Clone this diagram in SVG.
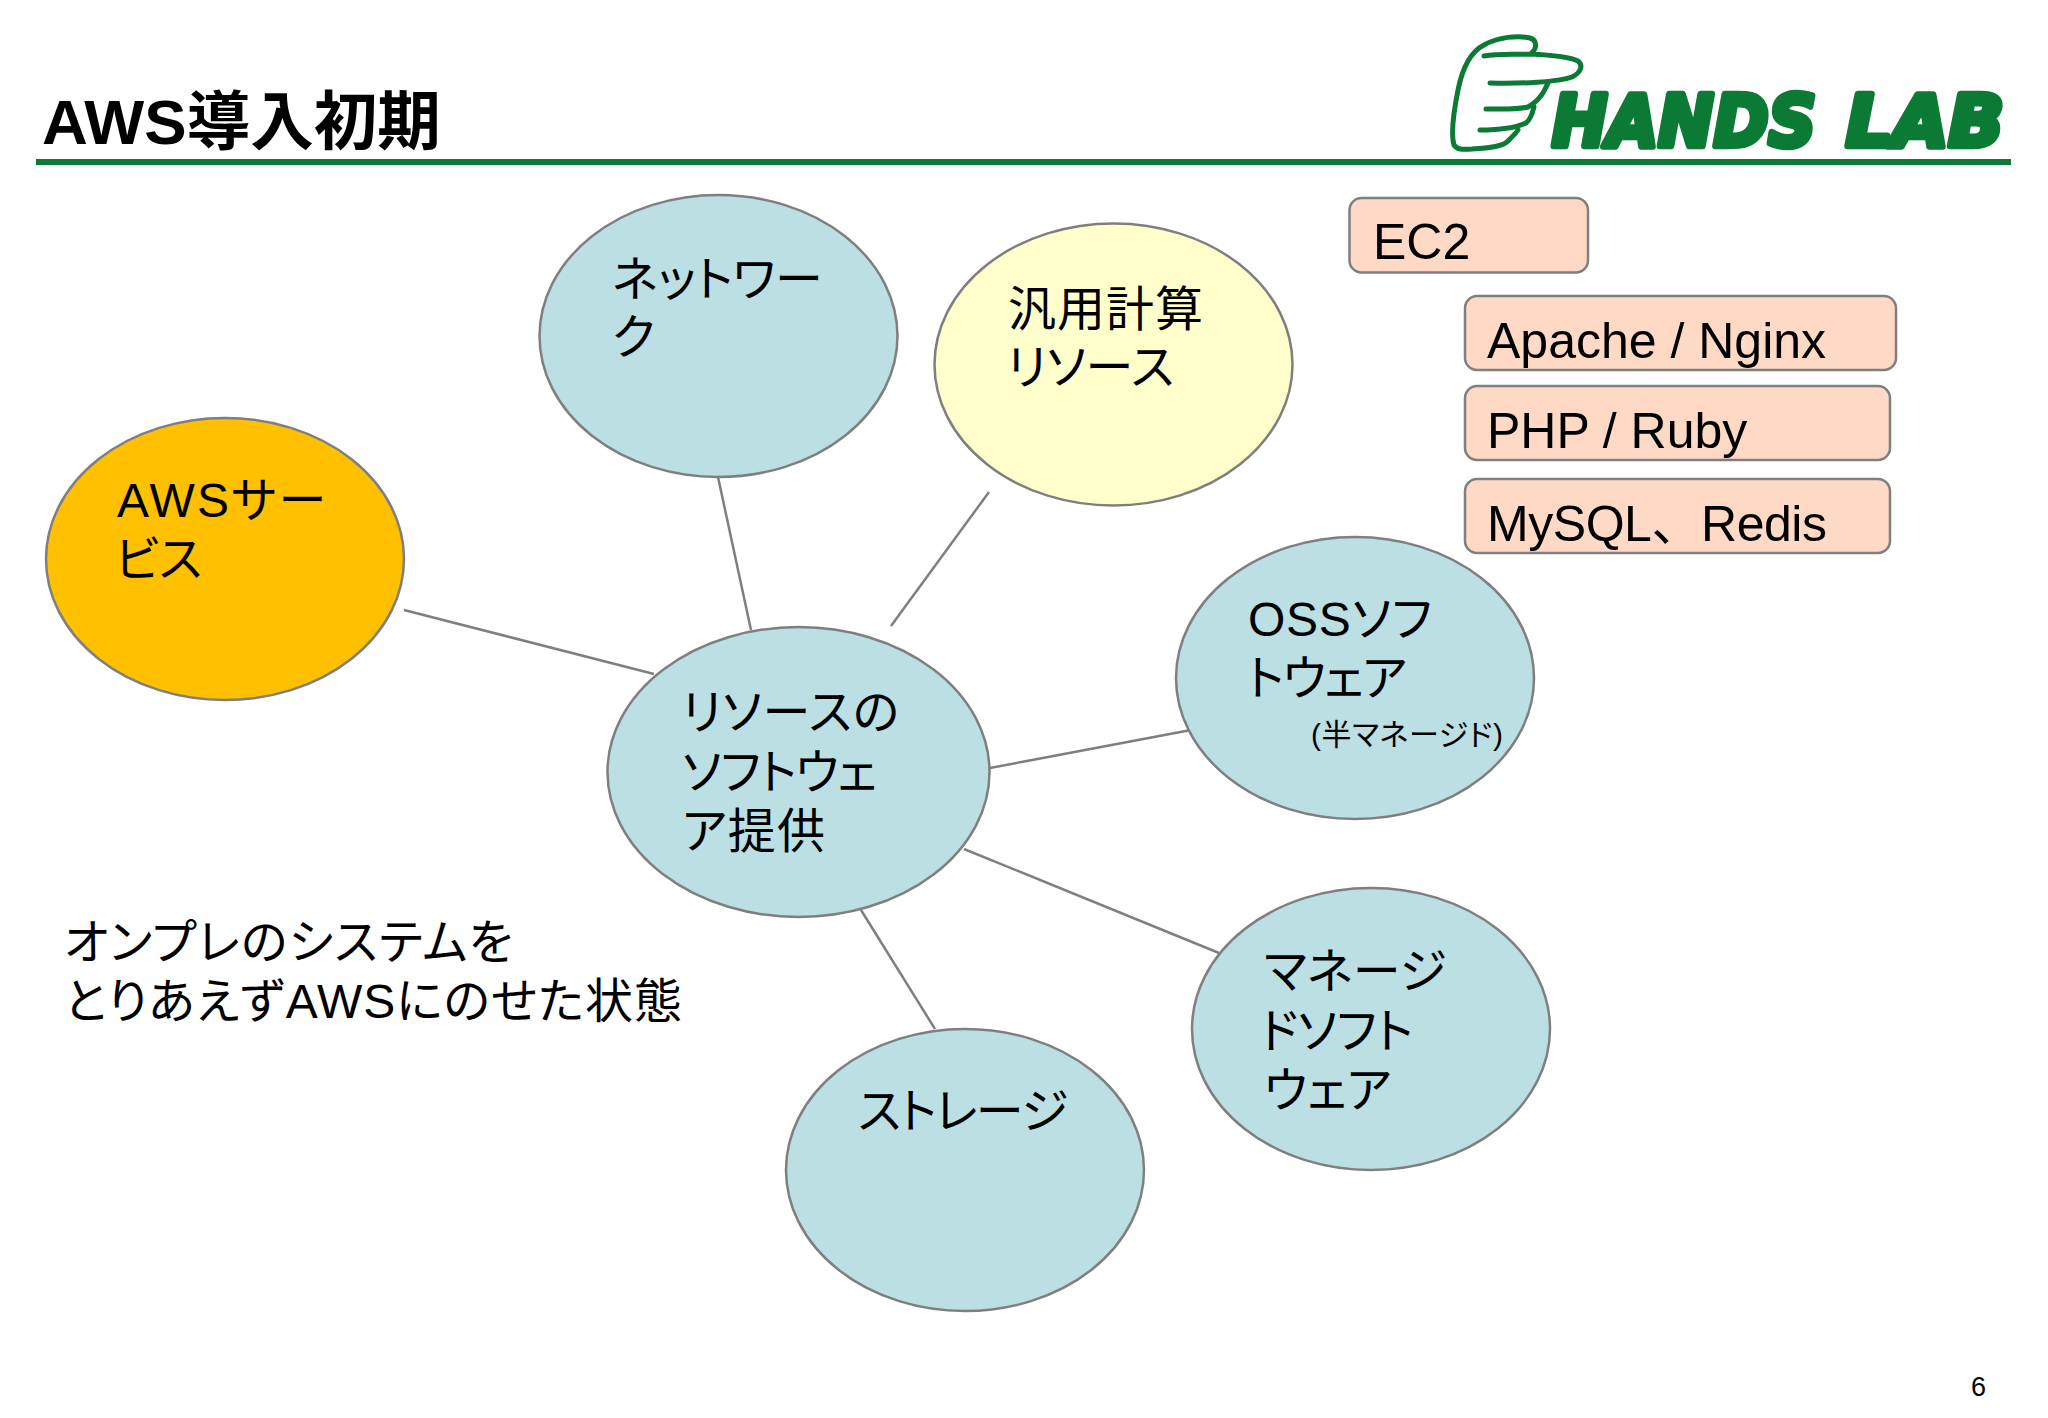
<svg xmlns="http://www.w3.org/2000/svg" width="2048" height="1418" viewBox="0 0 2048 1418">
<style>
text{font-family:"Liberation Sans","Noto Sans CJK JP",sans-serif;fill:#000}
.e{stroke:#7f7f7f;stroke-width:2.5}
.b{fill:#bbdfe3}
.r{fill:#fed9c6;stroke:#7f7f7f;stroke-width:2.5}
.t{font-size:48px;font-feature-settings:"palt"}
.w{font-size:50px}
.l{stroke:#7f7f7f;stroke-width:2.5;fill:none}
.h{fill:none;stroke:#0a7a35;stroke-width:5;stroke-linecap:round;stroke-linejoin:round}
text.g{font-family:"DejaVu Sans",sans-serif;font-size:72px;font-weight:700;font-style:italic;fill:#0a7a35;stroke:#0a7a35;stroke-width:6.500;stroke-linejoin:round}
</style>
<rect width="2048" height="1418" fill="#fff"/>
<g id="header">
<text x="42" y="144" font-size="63.500" font-weight="700">AWS導入初期</text>
<rect x="36" y="159" width="1975" height="6" fill="#0a7a35"/>
</g>
<g id="logo">
<path class="h" d="M1484 56C1500 53 1520 55 1530 54C1538 49 1537 40 1530 38C1518 35 1498 37 1484 45C1470 52 1462 70 1458 90C1453 115 1451 135 1454 145C1458 151 1466 149 1472 149C1492 148 1503 146 1508 141C1514 135 1517 132 1518 130M1530 54C1550 55 1570 57 1578 61C1584 66 1580 73 1572 77C1558 82 1520 84 1490 83M1548 83C1544 92 1540 100 1528 107C1515 110 1500 109 1486 109M1534 107C1532 115 1530 120 1526 123C1515 128 1495 130 1480 130"/>
<text class="g" x="1552" y="146" textLength="264" lengthAdjust="spacingAndGlyphs">HANDS</text>
<text class="g" x="1846" y="146" textLength="158" lengthAdjust="spacingAndGlyphs">LAB</text>
</g>
<g id="connectors">
<line class="l" x1="404" y1="610" x2="654" y2="674"/>
<line class="l" x1="718" y1="477" x2="751" y2="630"/>
<line class="l" x1="989" y1="492" x2="891" y2="626"/>
<line class="l" x1="990" y1="768" x2="1191" y2="730"/>
<line class="l" x1="964" y1="849" x2="1219" y2="953"/>
<line class="l" x1="861" y1="910" x2="935" y2="1029"/>
</g>
<g id="network"><ellipse class="e b" cx="718.500" cy="336" rx="179" ry="141"/><text class="t" x="612" y="296">ネットワー</text><text class="t" x="612" y="354">ク</text></g>
<g id="compute"><ellipse class="e" fill="#ffffcc" cx="1113.500" cy="364.500" rx="179" ry="141"/><text class="t" x="1008" y="326" textLength="195">汎用計算</text><text class="t" x="1007" y="384">リソース</text></g>
<g id="aws"><ellipse class="e" fill="#ffc000" cx="225" cy="559" rx="179" ry="141"/><text class="t" x="117" y="517" textLength="209">AWSサー</text><text class="t" x="115" y="576">ビス</text></g>
<g id="center"><ellipse class="e b" cx="798.500" cy="772" rx="191" ry="145"/><text class="t" x="682" y="729" textLength="217">リソースの</text><text class="t" x="682" y="789" textLength="195">ソフトウェ</text><text class="t" x="682" y="848" textLength="143">ア提供</text></g>
<g id="oss"><ellipse class="e b" cx="1355" cy="678" rx="179" ry="141"/><text class="t" x="1248" y="636" textLength="184">OSSソフ</text><text class="t" x="1247" y="695" textLength="160">トウェア</text><text x="1311" y="745" font-size="30" style="font-feature-settings:'palt'" textLength="192">(半マネージド)</text></g>
<g id="managed"><ellipse class="e b" cx="1371" cy="1029" rx="179" ry="141"/><text class="t" x="1264" y="988">マネージ</text><text class="t" x="1260" y="1048" textLength="153">ドソフト</text><text class="t" x="1264" y="1107">ウェア</text></g>
<g id="storage"><ellipse class="e b" cx="965" cy="1170" rx="179" ry="141"/><text class="t" x="858" y="1128" textLength="210">ストレージ</text></g>
<g id="ec2"><rect class="r" x="1349.500" y="198" width="238.500" height="74.500" rx="12"/><text class="w" x="1373" y="259">EC2</text></g>
<g id="apache"><rect class="r" x="1465" y="296" width="431" height="74" rx="12"/><text class="w" x="1487" y="358">Apache / Nginx</text></g>
<g id="php"><rect class="r" x="1465" y="386" width="425" height="74" rx="12"/><text class="w" x="1487" y="448">PHP / Ruby</text></g>
<g id="mysql"><rect class="r" x="1465" y="479" width="425" height="74" rx="12"/><text class="w" x="1487" y="541" textLength="340">MySQL、Redis</text></g>
<g id="note"><text class="t" x="64" y="959" textLength="449">オンプレのシステムを</text><text class="t" x="64" y="1018" textLength="618">とりあえずAWSにのせた状態</text></g>
<text id="page" x="1971" y="1396" font-size="27">6</text>
</svg>
